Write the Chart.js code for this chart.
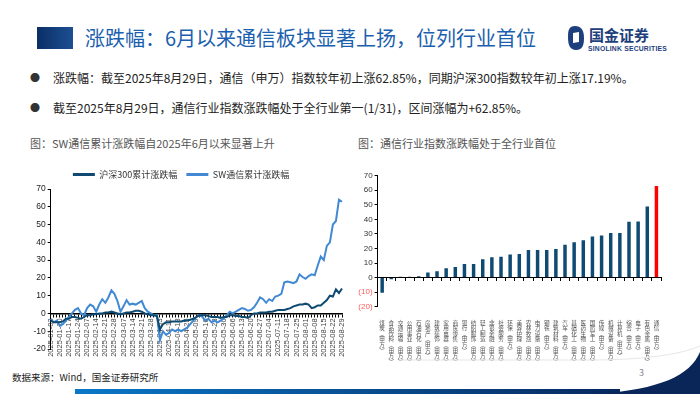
<!DOCTYPE html>
<html>
<head>
<meta charset="utf-8">
<script src="https://cdn.jsdelivr.net/npm/chart.js@4.4.1/dist/chart.umd.min.js"></script>
<style>
  body { margin: 0; width: 700px; height: 394px; overflow: hidden; background: #fff; position: relative;
         font-family: "Noto Sans CJK SC", "Noto Sans", sans-serif; }
  .abs { position: absolute; white-space: nowrap; }
  .title-box { left: 37px; top: 27px; width: 36px; height: 22px; background: linear-gradient(90deg, #0b2f66, #1c4f93); }
  .title { left: 85px; top: 24px; font-size: 20px; line-height: 28px; color: #1b5fae; }
  .bullet { font-size: 12px; line-height: 18px; color: #222; }
  .dot { font-size: 10px; line-height: 18px; color: #333; }
  .caption { font-size: 11px; line-height: 16px; color: #555; }
  .footer { left: 12px; top: 369px; font-size: 9.5px; line-height: 16px; color: #222; }
</style>
</head>
<body>
<div class="abs title-box"></div>
<div class="abs title">涨跌幅：6月以来通信板块显著上扬，位列行业首位</div>

<!-- logo -->
<svg class="abs" style="left:566px;top:24px" width="130" height="30">
  <path d="M9 2 C3 2 2 6 2 13 C2 21 4 26 10 26 C16 26 18 22 18 14 C18 6 15 2 9 2 Z" fill="#1d3f7c"/>
  <path d="M7 9 L13 8 L13 18 L7 19 Z" fill="#fff"/>
  <text x="23" y="17" font-size="15" font-weight="bold" fill="#1d3f7c" font-family="Noto Sans CJK SC">国金证券</text>
  <text x="22" y="27" font-size="6.8" font-weight="bold" fill="#1d3f7c" font-family="Liberation Sans" letter-spacing="0.2">SINOLINK SECURITIES</text>
</svg>

<div class="abs dot" style="left:30px;top:69px">●</div>
<div class="abs bullet" style="left:53px;top:69px">涨跌幅：截至2025年8月29日，通信（申万）指数较年初上涨62.85%，同期沪深300指数较年初上涨17.19%。</div>
<div class="abs dot" style="left:30px;top:99px">●</div>
<div class="abs bullet" style="left:53px;top:99px">截至2025年8月29日，通信行业指数涨跌幅处于全行业第一(1/31)，区间涨幅为+62.85%。</div>

<div class="abs caption" style="left:30px;top:135px">图：SW通信累计涨跌幅自2025年6月以来显著上升</div>
<div class="abs caption" style="left:358px;top:135px">图：通信行业指数涨跌幅处于全行业首位</div>

<div class="abs" style="left:20px;top:161px;width:335px;height:205px"><canvas id="lineChart"></canvas></div>
<div class="abs" style="left:355px;top:165px;width:310px;height:200px"><canvas id="barChart"></canvas></div>

<div class="abs footer">数据来源：Wind，国金证券研究所</div>
<div class="abs" style="left:639px;top:366px;font-size:9px;color:#888">3</div>

<svg class="abs" style="left:0;top:340px" width="700" height="54">
  <defs>
    <linearGradient id="barG" x1="0" x2="1" y1="0" y2="0">
      <stop offset="0" stop-color="#0a78c8"/>
      <stop offset="1" stop-color="#06285e"/>
    </linearGradient>
  </defs>
  <path d="M400 20 L590 20 C640 20 680 15 700 6" stroke="#e6e6e6" stroke-width="1" fill="none"/>
  <rect x="75" y="49" width="545" height="5" fill="url(#barG)"/>
  <path d="M700 12 C690 36 660 49 598 54 L700 54 Z" fill="#0a2558"/>
</svg>

<script>
// 左图：累计涨跌幅（%），每周取3个读数
const weekLabels = ['2025-01-02', '2025-01-10', '2025-01-17', '2025-01-24', '2025-02-07', '2025-02-14',
  '2025-02-21', '2025-02-28', '2025-03-07', '2025-03-14', '2025-03-21', '2025-03-28', '2025-04-03',
  '2025-04-11', '2025-04-18', '2025-04-25', '2025-05-09', '2025-05-16', '2025-05-23', '2025-05-30',
  '2025-06-06', '2025-06-13', '2025-06-20', '2025-06-27', '2025-07-04', '2025-07-11', '2025-07-18',
  '2025-07-25', '2025-08-01', '2025-08-08', '2025-08-15', '2025-08-22', '2025-08-29'];
const hs300 = [
  -4, -5, -5, -5, -4.5, -3, -3, -2, -2, -2.5,
  -3, -2, -1, -1, -0.5, -0.5, 0, 0, 0.5, 0.5,
  1, 0.5, 0, -0.5, 0, 0.5, 0.5, 1, 1.5, 1.5,
  1, 0, -0.5, -1, -1, -1.5, -9, -6, -5, -5,
  -4.5, -4.5, -4.5, -4.5, -4, -4, -3.5, -3, -2, -1,
  -1, -1, -1.5, -2, -2, -2, -2.5, -2, -2, -1,
  -1, -1.5, -1.5, -2, -2, -2.5, -1, 0, 0, 0.5,
  0.5, 0.5, 1, 1, 1.5, 2, 2, 2, 2.5, 3,
  4, 4.5, 5, 5, 5.5, 5, 3, 3.5, 4.5, 4.5,
  6, 7.5, 10, 9.5, 13.5, 11.5, 14
];
const swTelecom = [
  -3, -5, -4, -7, -6, -4, -2, 0, 2, 3,
  0, -1, 3, 5, 4, 1, 5, 8, 6, 9,
  13, 11, 7, 1, 4, 7.5, 5, 5.5, 5, 6,
  7, 3, 1, 0, -1, -1, -15, -10, -12, -11,
  -9, -10, -9, -10, -9, -8, -6, -4, -2, -1,
  -2, -4, -3, -5, -4, -5, -4, -3, -1, 1,
  0, 1, 2, 3, 2.5, 1.5, 2, 3.5, 6, 9,
  8, 6, 8, 7, 9.5, 10, 11, 17.5, 18, 17.5,
  17, 18, 22, 20.5, 19.5, 21, 22, 21.5, 27, 32,
  30, 38, 40, 50, 52, 64, 62.85
];
const lineTicks = [-20, 70, 10];

// 右图：申万一级行业区间涨跌幅（%）
const industries = ['煤炭(申万)', '食品饮料(申万)', '交通运输(申万)', '公用事业(申万)', '石油石化(申万)',
  '房地产(申万)', '建筑装饰(申万)', '家用电器(申万)', '商贸零售(申万)', '银行(申万)', '纺织服饰(申万)',
  '轻工制造(申万)', '非银金融(申万)', '社会服务(申万)', '环保(申万)', '美容护理(申万)', '农林牧渔(申万)',
  '电力设备(申万)', '钢铁(申万)', '建筑材料(申万)', '汽车(申万)', '基础化工(申万)', '医药生物(申万)',
  '国防军工(申万)', '传媒(申万)', '机械设备(申万)', '计算机(申万)', '综合(申万)', '电子(申万)',
  '有色金属(申万)', '通信(申万)'];
const industryChange = [-10.4, -1.2, 0.6, 0.6, 1.0, 3.5, 4.3, 6.5, 7.2, 9.3, 9.3,
  12.6, 14.0, 14.3, 15.8, 16.2, 18.9, 18.9, 18.9, 19.6, 22.5, 24.3, 25.7,
  28.3, 29.0, 30.7, 30.7, 38.3, 38.6, 48.9, 62.85];
const highlight = '通信(申万)';
const barTicks = [-20, 70, 10];

const navy = '#0e4a72';
const lightBlue = '#4189d3';

// 每个交易点一个刻度，只在周五显示日期
const lineLabels = hs300.map((v, i) => (i % 3 === 0 ? weekLabels[i / 3] : ''));

new Chart(document.getElementById('lineChart'), {
  type: 'line',
  data: {
    labels: lineLabels,
    datasets: [
      { label: '沪深300累计涨跌幅', data: hs300, borderColor: navy, backgroundColor: navy,
        borderWidth: 2, pointRadius: 0, tension: 0 },
      { label: 'SW通信累计涨跌幅', data: swTelecom, borderColor: lightBlue, backgroundColor: lightBlue,
        borderWidth: 2, pointRadius: 0, tension: 0 }
    ]
  },
  options: {
    responsive: true,
    maintainAspectRatio: false,
    animation: false,
    layout: { padding: { top: 0, right: 13, bottom: 17, left: 0 } },
    plugins: {
      tooltip: { enabled: false },
      legend: {
        position: 'top',
        labels: {
          boxWidth: 22, boxHeight: 3, padding: 9, color: '#333',
          font: { size: 9, family: "'Noto Sans CJK SC', sans-serif" },
          generateLabels: (chart) => Chart.defaults.plugins.legend.labels.generateLabels(chart)
            .map(l => Object.assign(l, { lineWidth: 0 }))
        }
      }
    },
    scales: {
      x: {
        position: { y: 0 },
        offset: false,
        grid: { drawOnChartArea: false, color: '#000', tickLength: 3, lineWidth: 1 },
        border: { color: '#000', width: 1.5 },
        ticks: {
          autoSkip: false, minRotation: 90, maxRotation: 90, padding: 2, color: '#444',
          font: { size: 7.5, family: "'Liberation Sans', Arial, sans-serif" }
        }
      },
      y: {
        min: lineTicks[0], max: lineTicks[1],
        afterFit: (s) => { s.width = 30.7; },
        grid: { drawOnChartArea: false, color: '#000', tickLength: 3 },
        border: { color: '#000', width: 1 },
        ticks: { stepSize: lineTicks[2], color: '#222', padding: 2,
          font: { size: 8.5, family: "'Liberation Sans', Arial, sans-serif" } }
      }
    }
  }
});

// 竖排标签：逐字换行，括号用竖排形式
function verticalLabel(text) {
  return Array.from(text.replace('(', '︵').replace(')', '︶'));
}

new Chart(document.getElementById('barChart'), {
  type: 'bar',
  data: {
    labels: industries,
    datasets: [{
      data: industryChange,
      backgroundColor: industries.map(n => (n === highlight ? '#ff0000' : navy)),
      barPercentage: 0.38,
      categoryPercentage: 1.0
    }]
  },
  options: {
    responsive: true,
    maintainAspectRatio: false,
    animation: false,
    layout: { padding: { top: 10.7, right: 4, bottom: 0, left: 0 } },
    plugins: { legend: { display: false }, tooltip: { enabled: false } },
    scales: {
      x: {
        position: 'bottom',
        afterFit: (s) => { s.height = 58.3; },
        grid: { display: false },
        border: { display: false },
        ticks: {
          autoSkip: false, maxRotation: 0, minRotation: 0, padding: 5, color: '#555',
          font: { size: 5.6, family: "'Noto Sans CJK SC', sans-serif", lineHeight: 1 },
          callback: function (v) { return verticalLabel(this.getLabelForValue(v)); }
        }
      },
      x2: {
        type: 'category',
        position: { y: 0 },
        grid: { drawOnChartArea: false, color: '#000', tickLength: 3, offset: true },
        border: { color: '#000', width: 1 },
        ticks: { display: false }
      },
      y: {
        min: barTicks[0], max: barTicks[1],
        afterFit: (s) => { s.width = 22.6; },
        grid: { drawOnChartArea: false, color: '#000', tickLength: 3 },
        border: { color: '#000', width: 1 },
        ticks: {
          stepSize: barTicks[2], padding: 2,
          font: { size: 8, family: "'Liberation Sans', Arial, sans-serif" },
          color: (ctx) => (ctx.tick.value < 0 ? '#ff5a5a' : '#333'),
          callback: (v) => (v < 0 ? '(' + (-v) + ')' : v)
        }
      }
    }
  }
});
</script>
</body>
</html>
